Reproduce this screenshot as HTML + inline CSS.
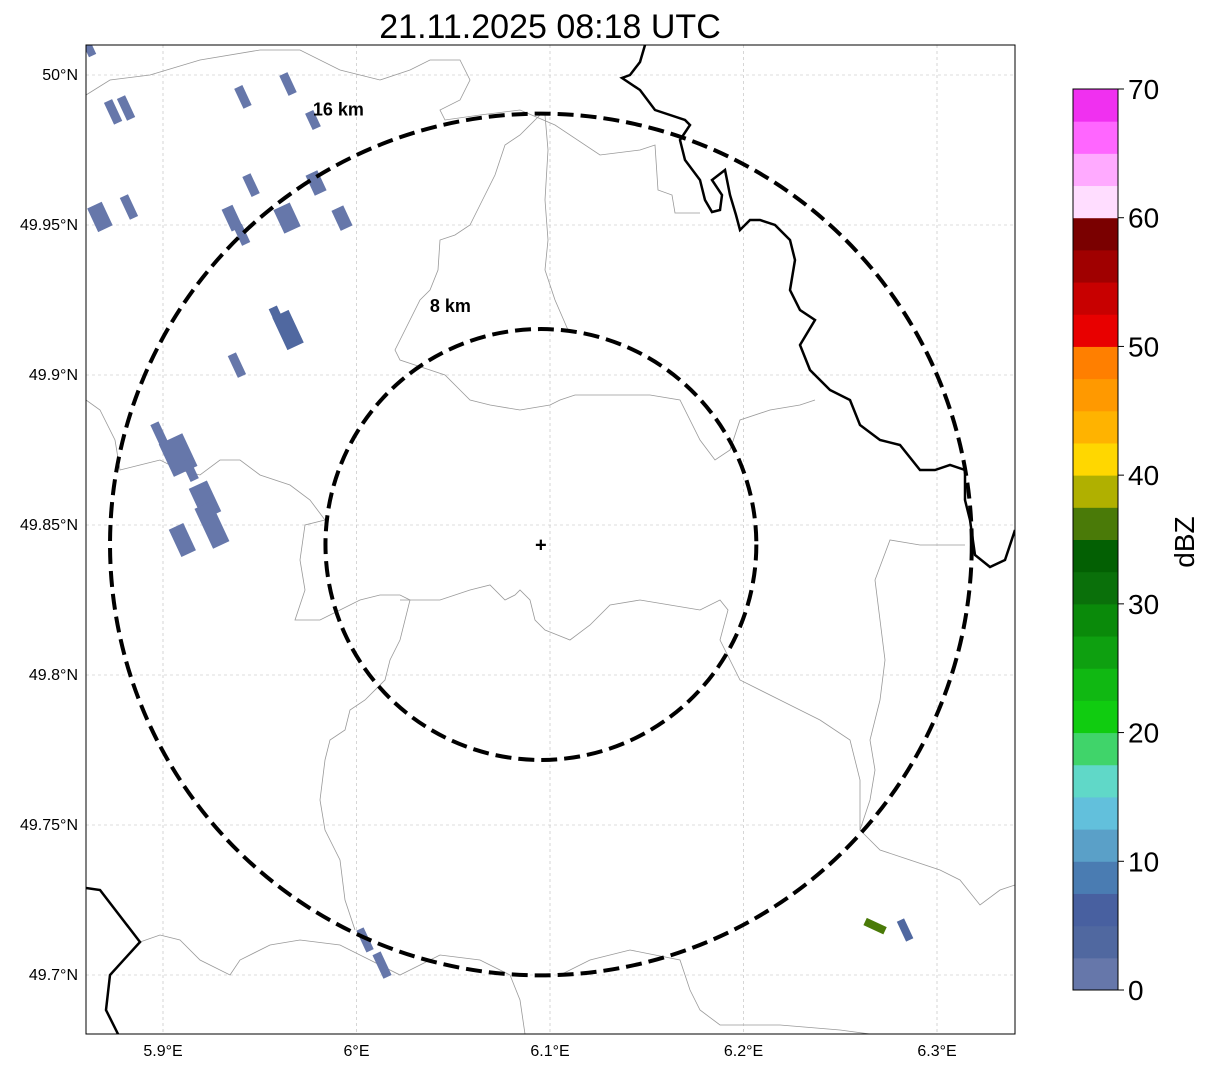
<!DOCTYPE html>
<html><head><meta charset="utf-8"><style>
body{margin:0;background:#fff;font-family:"Liberation Sans",sans-serif}
svg text{font-family:"Liberation Sans",sans-serif}
</style></head><body>
<svg id="chart" width="1207" height="1069" viewBox="0 0 1207 1069">
<text x="550" y="38" font-size="34" text-anchor="middle">21.11.2025 08:18 UTC</text>
<defs><clipPath id="mapclip"><rect x="86" y="45" width="929" height="989"/></clipPath></defs>
<g id="grid"></g>
<g clip-path="url(#mapclip)">
<g id="borders" fill="none">
<path stroke="#999" stroke-width="0.8" d="M540,115 L520,135 L505,145 L495,175 L480,205 L470,225 L455,235 L440,240 L438,270 L430,290 L420,300 L405,330 L395,350 L400,360 L430,370 L445,375 L458,388 L470,400 L490,405 L520,410 L550,405 L560,400 L575,395 L620,395 L650,395 L680,400 L700,440 L715,460 L730,450 L740,420 L770,410 L800,405 L815,400"/>
<path stroke="#999" stroke-width="0.8" d="M545,115 L548,150 L545,200 L548,240 L545,270 L555,300 L568,330"/>
<path stroke="#999" stroke-width="0.8" d="M86,400 L100,410 L115,440 L120,470 L140,465 L160,460 L180,470 L200,475 L220,460 L240,460 L260,475 L290,485 L310,500 L325,520 L305,525 L300,560 L305,590 L295,620 L320,620 L340,610 L360,600 L380,595 L400,595 L410,600 L405,620 L400,640 L390,660 L385,680 L365,700 L350,710 L345,730 L330,740 L325,760 L320,800 L325,830 L340,860 L345,900 L355,930"/>
<path stroke="#999" stroke-width="0.8" d="M400,600 L440,600 L470,590 L490,585 L505,600 L515,595 L520,590 L530,600 L535,620 L545,630 L570,640 L590,625 L610,605 L640,600 L670,605 L700,610 L720,600 L728,610 L720,640 L740,680 L780,700 L820,720 L850,740 L860,780 L860,830 L880,850 L910,860 L940,870 L960,880 L980,905 L1000,890 L1015,885"/>
<path stroke="#999" stroke-width="0.8" d="M860,830 L870,800 L875,770 L870,740 L880,700 L885,660 L880,620 L875,580 L890,540 L920,545 L965,545"/>
<path stroke="#999" stroke-width="0.8" d="M86,95 L110,80 L150,75 L200,60 L260,50 L300,50 L340,70 L380,80 L410,70 L430,60 L460,60 L470,80 L460,100 L440,110 L445,120 L480,115 L520,110 L555,125 L600,155 L640,150 L655,145 L658,190 L672,195 L675,213 L700,213"/>
<path stroke="#999" stroke-width="0.8" d="M140,942 L160,935 L180,940 L200,960 L230,975 L240,960 L270,945 L300,940 L340,945 L370,960 L400,975 L440,955 L480,960 L510,975 L520,1000 L525,1034"/>
<path stroke="#999" stroke-width="0.8" d="M560,975 L590,960 L630,950 L680,960 L690,990 L700,1010 L720,1025 L780,1025 L840,1030 L870,1034"/>
<path stroke="#000" stroke-width="2.5" d="M645,45 L640,62 L630,75 L622,78 L640,90 L655,110 L685,120 L690,125 L680,140 L685,160 L700,180 L705,200 L712,212 L720,210 L722,195 L712,180 L725,170 L730,195 L736,215 L740,230 L750,220 L760,220 L775,225 L790,240 L795,260 L790,290 L800,310 L815,320 L800,345 L810,370 L830,390 L850,400 L860,425 L880,440 L900,445 L920,470 L935,470 L950,465 L965,470 L965,500 L970,520 L975,555 L990,567 L1005,560 L1015,530"/>
<path stroke="#000" stroke-width="2.5" d="M86,888 L100,890 L140,942 L110,975 L106,1010 L118,1034"/>
</g>
<g id="echoes"></g>
</g>
<g id="rings"></g>
<rect x="86" y="45" width="929" height="989" fill="none" stroke="#000" stroke-width="1"/>
<g id="axes"></g>
<g id="colorbar"></g>
</svg>
<script>
const lonTicks=[5.9,6.0,6.1,6.2,6.3];
const lonLabels=["5.9°E","6°E","6.1°E","6.2°E","6.3°E"];
const latTicks=[50.0,49.95,49.9,49.85,49.8,49.75,49.7];
const latLabels=["50°N","49.95°N","49.9°N","49.85°N","49.8°N","49.75°N","49.7°N"];
const echoLon=[5.8623,5.8742,5.8809,5.9413,5.9646,5.9775,5.8674,5.8824,5.9455,5.9791,5.9357,5.9408,5.9641,5.9925,5.9646,5.9382,5.8984,5.9078,5.9140,5.9217,5.9253,6.2680,6.2835,6.0044,6.0132,5.9600,5.9100];
const echoLat=[50.0083,49.9877,49.989,49.9927,49.997,49.985,49.9527,49.956,49.9633,49.964,49.9523,49.9467,49.9523,49.9523,49.915,49.9033,49.88,49.8733,49.8683,49.8583,49.85,49.7163,49.715,49.7117,49.7033,49.918,49.8450];
const echoDbz=[2,2,2,2,2,2,2,2,2,2,2,2,2,2,4,2,2,2,2,2,2,37,3,2,2,3,2];
const echoLen=[12,24,24,22,22,18,26,24,22,22,24,20,26,22,36,24,26,36,22,34,44,22,22,24,26,30,30];
const echoWid=[8,9,9,9,9,9,16,9,9,13,12,9,18,13,18,9,9,26,9,20,18,8,8,8,9,9,16];
const cbLevels=[0,2.5,5,7.5,10,12.5,15,17.5,20,22.5,25,27.5,30,32.5,35,37.5,40,42.5,45,47.5,50,52.5,55,57.5,60,62.5,65,67.5];
const cbColors=["#6677aa","#5068a0","#4860a0","#4a7cb2","#5aa0c8","#62c0dc","#60d8c8","#40d46a","#10cc10","#10b812","#0ea010","#0a8a0a","#0a700a","#036003","#4a7a08","#b0b000","#ffd700","#ffb300","#ff9900","#ff7f00","#e80000","#c80000","#a00000","#7a0000","#ffddff","#ffaaff","#ff66ff","#f030f0"];
const cbTicks=[0,10,20,30,40,50,60,70];
const ringKm=[8,16];
const centerLon=6.0953, centerLat=49.8435;

const NS="http://www.w3.org/2000/svg";
const X=lon=>163+(lon-5.9)*1935;
const Y=lat=>75+(50-lat)*3000;
const CBY=v=>990-(v/70)*901;
function mk(tag,attrs,parent){const e=document.createElementNS(NS,tag);for(const k in attrs)e.setAttribute(k,attrs[k]);parent.appendChild(e);return e;}
const grid=document.getElementById('grid'),axes=document.getElementById('axes');
lonTicks.forEach((v,i)=>{
 const l=mk('line',{x1:X(v),x2:X(v),y1:45,y2:1034,stroke:'#bbb','stroke-width':0.6,'stroke-dasharray':'3,3'},grid);
 
 
 const t=mk('text',{x:X(v),y:1056,'font-size':16,'text-anchor':'middle'},axes);t.textContent=lonLabels[i];
 
 
});
latTicks.forEach((v,i)=>{
 const l=mk('line',{x1:86,x2:1015,y1:Y(v),y2:Y(v),stroke:'#bbb','stroke-width':0.6,'stroke-dasharray':'3,3'},grid);
 
 
 const t=mk('text',{x:78,y:Y(v)+5,'font-size':16,'text-anchor':'end'},axes);t.textContent=latLabels[i];
 
 
});
const eg=document.getElementById('echoes');
function colorFor(d){let c=cbColors[0];cbLevels.forEach((lv,i)=>{if(d>=lv)c=cbColors[i];});return c;}
echoLon.forEach((lon,i)=>{
 const cx=X(lon),cy=Y(echoLat[i]),L=echoLen[i],W=echoWid[i];
 const ang=echoDbz[i]>30?25:65;
 const r=mk('rect',{x:cx-L/2,y:cy-W/2,width:L,height:W,fill:colorFor(echoDbz[i]),transform:`rotate(${ang} ${cx} ${cy})`},eg);
 
 
});
const rg=document.getElementById('rings');
const cx=X(centerLon),cy=Y(centerLat);
ringKm.forEach(km=>{
 const r=km*26.93;
 const c=mk('ellipse',{cx:cx,cy:cy,rx:r,ry:r,fill:'none',stroke:'#000','stroke-width':4,'stroke-dasharray':'16,7'},rg);
 
 
 const lx=km>10?cx-r*0.47:cx-r*0.42;
 const ly=km>10?cy-r+2:cy-r-17;
 const t=mk('text',{x:lx,y:ly,'font-size':18,'font-weight':'bold','text-anchor':'middle'},rg);
 t.textContent=km+' km';
 
 
});
const m=mk('text',{x:cx,y:cy+7,'font-size':20,'font-weight':'bold','text-anchor':'middle'},rg);m.textContent='+';


const cb=document.getElementById('colorbar');
cbLevels.forEach((lv,i)=>{
 const top=CBY(lv+2.5),bot=CBY(lv);
 const r=mk('rect',{x:1073,y:top,width:45,height:bot-top+0.5,fill:cbColors[i]},cb);
 
 
});
mk('rect',{x:1073,y:89,width:45,height:901,fill:'none',stroke:'#000','stroke-width':1},cb);
cbTicks.forEach(v=>{
 mk('line',{x1:1118,x2:1124,y1:CBY(v),y2:CBY(v),stroke:'#000'},cb);
 const t=mk('text',{x:1128,y:CBY(v)+10,'font-size':28},cb);t.textContent=v;
 
 
});
const lab=mk('text',{x:1194,y:542,'font-size':28,'text-anchor':'middle',transform:'rotate(-90 1194 542)'},cb);lab.textContent='dBZ';


</script>
</body></html>
